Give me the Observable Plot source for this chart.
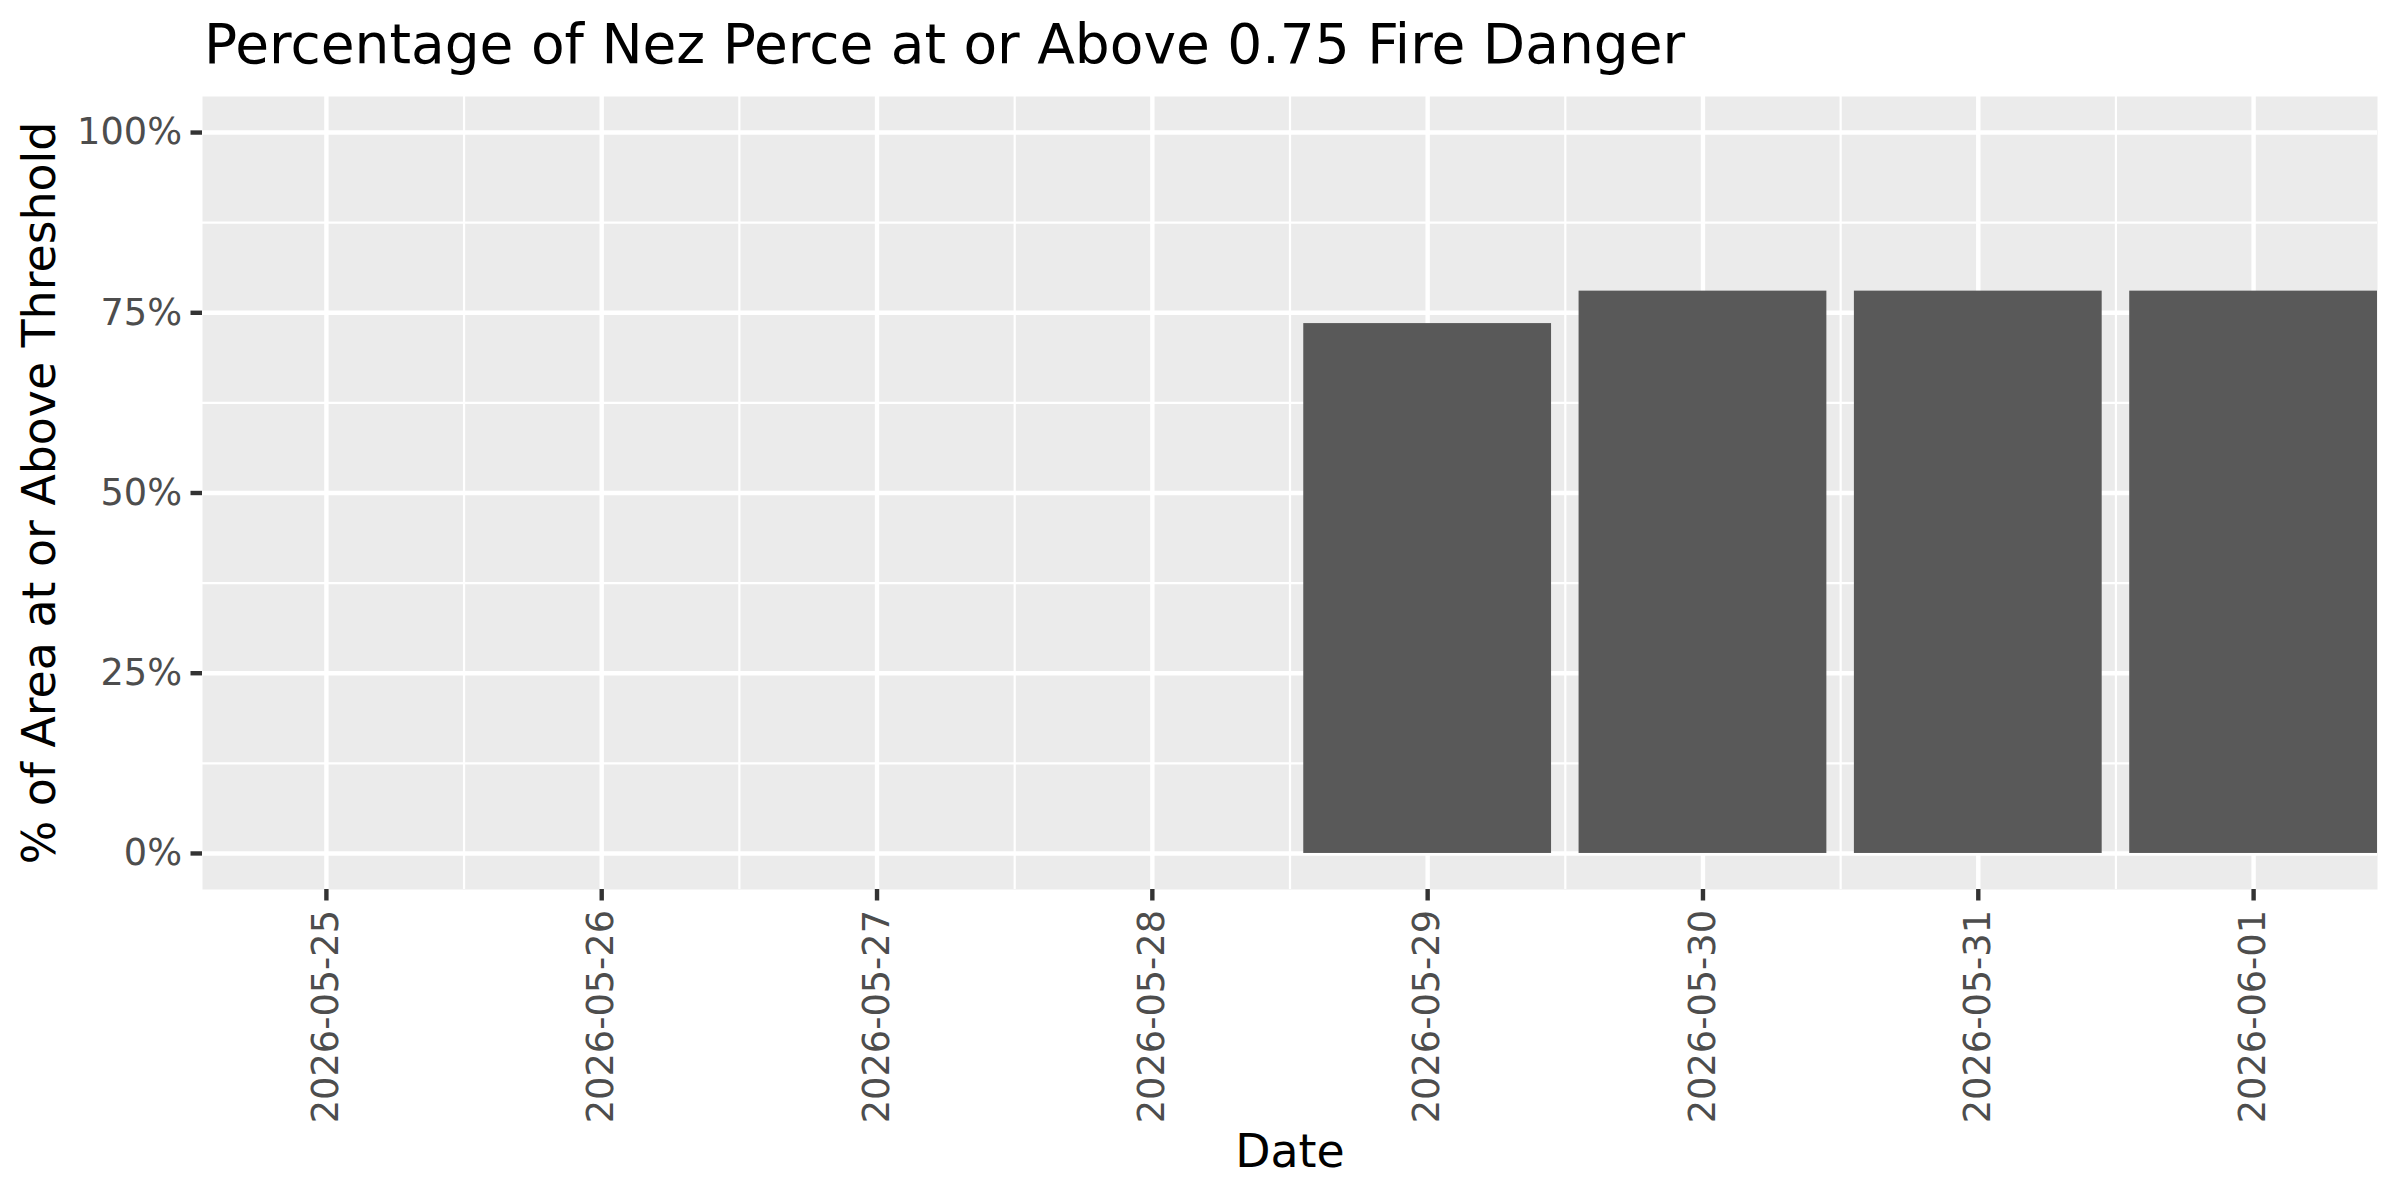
<!DOCTYPE html>
<html>
<head>
<meta charset="utf-8">
<script src="https://cdn.jsdelivr.net/npm/d3@7"></script>
<script src="https://cdn.jsdelivr.net/npm/@observablehq/plot@0.6"></script>
<style>
  html, body { margin: 0; padding: 0; background: #ffffff; }
  #title {
    box-sizing: border-box;
    height: 80px;
    padding-top: 12px;
    padding-left: 204px;
    font-family: "DejaVu Sans", sans-serif;
    font-size: 55px;
    line-height: 64px;
    color: #000000;
    white-space: nowrap;
  }
  #chart svg { display: block; }
</style>
</head>
<body>
<div id="title">Percentage of Nez Perce at or Above 0.75 Fire Danger</div>
<div id="chart"></div>
<script>
// ---- data ----
const dates = ["2026-05-25", "2026-05-26", "2026-05-27", "2026-05-28",
               "2026-05-29", "2026-05-30", "2026-05-31", "2026-06-01"];
const values = [0, 0, 0, 0, 0.735, 0.78, 0.78, 0.78];
const yTicks = [0, 0.25, 0.5, 0.75, 1];
const yMinorTicks = [0.125, 0.375, 0.625, 0.875];
const xLabel = "Date";
const yLabel = "% of Area at or Above Threshold";

// ---- derived ----
const DAY = 864e5;
const BAR_HALF = 0.45 * DAY;
const parse = d3.utcParse("%Y-%m-%d");
const dateObjs = dates.map(parse);
const data = dates.map((d, i) => ({date: dateObjs[i], value: values[i]}));
const minorX = dateObjs.slice(0, -1).map(d => new Date(+d + DAY / 2));
const xDomain = [new Date(+dateObjs[0] - BAR_HALF), new Date(+dateObjs[dateObjs.length - 1] + BAR_HALF)];

const chart = Plot.plot({
  width: 2400,
  height: 1120,
  marginTop: 16,
  marginBottom: 311,
  marginLeft: 202,
  marginRight: 23,
  style: {fontFamily: "DejaVu Sans", background: "#ffffff", overflow: "visible"},
  x: {type: "utc", domain: xDomain},
  y: {domain: [-0.05, 1.05]},
  marks: [
    Plot.frame({fill: "#EBEBEB", stroke: "none"}),
    Plot.ruleY(yMinorTicks, {stroke: "#ffffff", strokeWidth: 2.2}),
    Plot.ruleX(minorX, {stroke: "#ffffff", strokeWidth: 2.2}),
    Plot.ruleY(yTicks, {stroke: "#ffffff", strokeWidth: 4.4}),
    Plot.ruleX(dateObjs, {stroke: "#ffffff", strokeWidth: 4.4}),
    Plot.rect(data, {
      x1: d => new Date(+d.date - BAR_HALF),
      x2: d => new Date(+d.date + BAR_HALF),
      y1: 0,
      y2: "value",
      fill: "#595959"
    }),
    Plot.axisX({
      ticks: dateObjs,
      tickFormat: d3.utcFormat("%Y-%m-%d"),
      tickRotate: -90,
      tickSize: 11.5,
      tickPadding: 9,
      fontSize: 36.7,
      fill: "#4D4D4D",
      stroke: "#333333",
      strokeWidth: 4.4,
      label: null
    }),
    Plot.axisY({
      ticks: yTicks,
      tickFormat: d => `${Math.round(d * 100)}%`,
      tickSize: 11.5,
      tickPadding: 9,
      fontSize: 36.7,
      fill: "#4D4D4D",
      stroke: "#333333",
      strokeWidth: 4.4,
      label: null
    }),
    Plot.text([yLabel], {text: d => d, frameAnchor: "left", textAnchor: "middle", lineAnchor: "middle", rotate: -90, dx: -162, fontSize: 45.8, fill: "#000000"}),
    Plot.text([xLabel], {text: d => d, frameAnchor: "bottom", textAnchor: "middle", lineAnchor: "middle", dy: 263, fontSize: 45.8, fill: "#000000"})
  ]
});
document.getElementById("chart").appendChild(chart);
</script>
</body>
</html>
